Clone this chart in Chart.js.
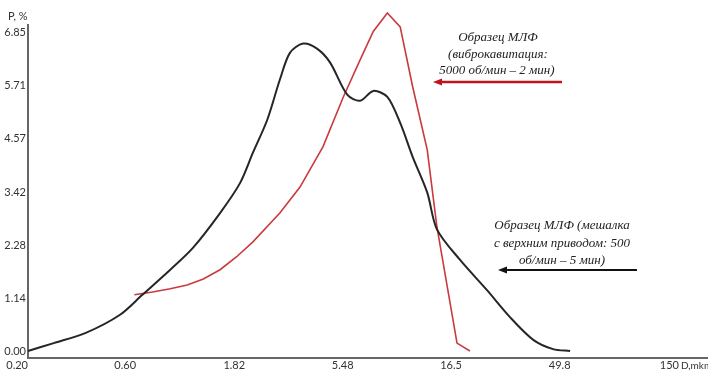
<!DOCTYPE html>
<html>
<head>
<meta charset="utf-8">
<script src="https://cdn.jsdelivr.net/npm/chart.js@4/dist/chart.umd.min.js"></script>
<style>
  html, body { margin: 0; padding: 0; background: #fff; }
  #wrap { position: relative; width: 708px; height: 371px; }
</style>
</head>
<body>
<div id="wrap"><canvas id="psd" width="708" height="371"></canvas></div>
<script>
// размеры частиц (мкм) и доли (%)
const stirrerSize = [0.20, 0.26, 0.36, 0.51, 0.64, 0.85, 1.07, 1.41, 1.73, 1.97, 2.28, 2.59, 2.87, 3.28, 3.78, 4.32, 5.14, 5.86, 6.70, 7.73, 8.81, 10.0, 11.6, 12.8, 16.2, 21.3, 26.9, 34.1, 41.7, 49.6];
const stirrerP = [0, 0.17, 0.39, 0.78, 1.21, 1.75, 2.22, 2.97, 3.62, 4.27, 4.98, 5.84, 6.42, 6.62, 6.51, 6.21, 5.52, 5.39, 5.60, 5.47, 4.91, 4.18, 3.41, 2.62, 1.96, 1.31, 0.73, 0.24, 0.04, 0];

const vibroSize = [0.59, 0.71, 0.85, 1.01, 1.19, 1.41, 1.67, 1.97, 2.59, 3.18, 4.02, 4.94, 5.86, 6.70, 7.73, 8.81, 10.0, 11.6, 12.8, 15.7, 17.9];
const vibroP = [1.21, 1.27, 1.34, 1.42, 1.55, 1.75, 2.03, 2.35, 2.97, 3.53, 4.40, 5.47, 6.27, 6.88, 7.28, 6.98, 5.69, 4.33, 2.67, 0.17, 0];

// подписи осей
const xTickValues = [0.2, 0.6, 1.82, 5.48, 16.5, 49.8, 150];
const xTickLabels = ["0.20", "0.60", "1.82", "5.48", "16.5", "49.8", "150"];
const yTickValues = [0, 1.14, 2.28, 3.42, 4.57, 5.71, 6.85];
const yTickLabels = ["0.00", "1.14", "2.28", "3.42", "4.57", "5.71", "6.85"];

const toPoints = (xs, ys) => xs.map((x, i) => ({ x: x, y: ys[i] }));

// подписи и стрелки поверх графика
const notesPlugin = {
  id: "notes",
  afterDraw(chart) {
    const ctx = chart.ctx;
    ctx.save();
    ctx.fillStyle = "#333";
    ctx.font = "11px Lato";
    ctx.textBaseline = "middle";
    ctx.textAlign = "left";
    ctx.fillText("P, %", 8, 16);
    ctx.font = "10px Lato";
    ctx.fillText("D,mkm", 681, 366);

    ctx.font = "italic 13px 'Liberation Serif'";
    ctx.textAlign = "center";
    ctx.fillStyle = "#222";
    ctx.fillText("Образец МЛФ", 498, 38);
    ctx.fillText("(виброкавитация:", 498, 55);
    ctx.fillText("5000 об/мин – 2 мин)", 497, 71);

    ctx.fillText("Образец МЛФ (мешалка", 562, 226);
    ctx.fillText("с верхним приводом: 500", 562, 244);
    ctx.fillText("об/мин – 5 мин)", 562, 261);

    function arrow(x1, x2, y, color, w) {
      ctx.strokeStyle = color;
      ctx.fillStyle = color;
      ctx.lineWidth = w;
      ctx.beginPath();
      ctx.moveTo(x1, y);
      ctx.lineTo(x2 + 6, y);
      ctx.stroke();
      ctx.beginPath();
      ctx.moveTo(x2, y);
      ctx.lineTo(x2 + 9, y - 3.5);
      ctx.lineTo(x2 + 9, y + 3.5);
      ctx.closePath();
      ctx.fill();
    }
    arrow(562, 433, 82, "#c0141c", 2.5);
    arrow(637, 498, 270, "#111", 2);
    ctx.restore();
  }
};

const ctx = document.getElementById("psd").getContext("2d");
new Chart(ctx, {
  type: "line",
  data: {
    datasets: [
      {
        label: "мешалка",
        data: toPoints(stirrerSize, stirrerP),
        borderColor: "#262626",
        borderWidth: 2,
        pointRadius: 0,
        tension: 0.3,
        fill: false,
        clip: false
      },
      {
        label: "виброкавитация",
        data: toPoints(vibroSize, vibroP),
        borderColor: "#c83a3e",
        borderWidth: 1.6,
        pointRadius: 0,
        tension: 0,
        fill: false,
        clip: false
      }
    ]
  },
  options: {
    responsive: false,
    animation: false,
    devicePixelRatio: 1,
    layout: { padding: { top: 25, left: 0, right: 0, bottom: 0 } },
    plugins: {
      legend: { display: false },
      tooltip: { enabled: false }
    },
    scales: {
      x: {
        type: "logarithmic",
        min: 0.2,
        max: 201.6,
        grid: { display: false, drawTicks: false },
        border: { display: true, color: "#666", width: 2 },
        afterBuildTicks: (scale) => { scale.ticks = xTickValues.map(v => ({ value: v })); },
        afterFit: (scale) => { scale.height = 13; },
        ticks: {
          align: "end",
          padding: 1,
          maxRotation: 0,
          autoSkip: false,
          color: "#333",
          font: { family: "Lato", size: 11 },
          callback: (v, i) => xTickLabels[i]
        }
      },
      y: {
        min: -0.151,
        max: 7.02,
        grid: { display: false, drawTicks: false },
        border: { display: true, color: "#666", width: 2 },
        afterBuildTicks: (scale) => { scale.ticks = yTickValues.map(v => ({ value: v })); },
        afterFit: (scale) => { scale.width = 28; },
        ticks: {
          padding: 2,
          color: "#333",
          font: { family: "Lato", size: 11 },
          callback: (v, i) => yTickLabels[i]
        }
      }
    }
  },
  plugins: [notesPlugin]
});
</script>
</body>
</html>
